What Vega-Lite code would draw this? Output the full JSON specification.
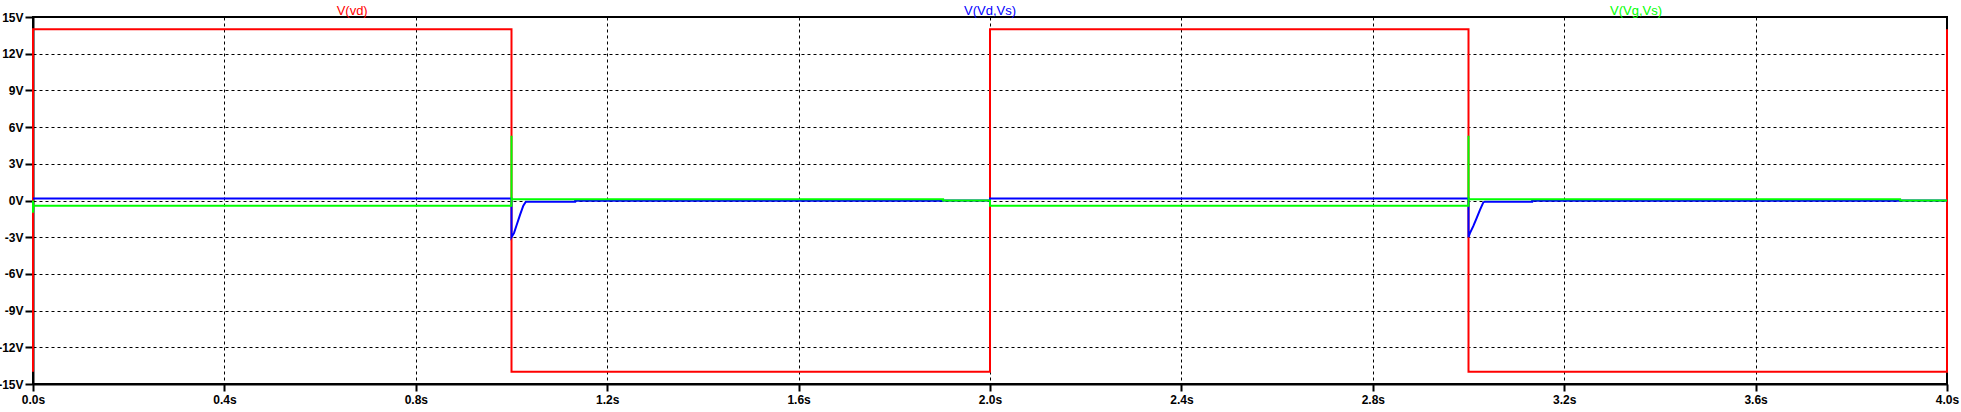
{
  "$schema": "https://vega.github.io/schema/vega-lite/v6.json",
  "width": 1914,
  "height": 367,
  "autosize": {"type": "none"},
  "padding": {"left": 33, "top": 17, "right": 14, "bottom": 28},
  "background": "white",
  "config": {
    "view": {"stroke": "black", "strokeWidth": 2},
    "axis": {
      "grid": true,
      "gridColor": "black",
      "gridDash": [3, 3],
      "gridWidth": 1,
      "gridOpacity": 1,
      "domainColor": "black",
      "domainWidth": 2,
      "tickColor": "black",
      "tickWidth": 2,
      "labelFont": "Liberation Sans",
      "labelFontSize": 12,
      "labelFontWeight": "bold",
      "labelColor": "black",
      "labelOverlap": false,
      "labelFlush": false,
      "title": null
    }
  },
  "datasets": {
    "traces": [
      {"s": "V(vd)", "i": 0, "t": 0, "v": -14},
      {"s": "V(vd)", "i": 1, "t": 0, "v": 14},
      {"s": "V(vd)", "i": 2, "t": 1, "v": 14},
      {"s": "V(vd)", "i": 3, "t": 1, "v": -14},
      {"s": "V(vd)", "i": 4, "t": 2, "v": -14},
      {"s": "V(vd)", "i": 5, "t": 2, "v": 14},
      {"s": "V(vd)", "i": 6, "t": 3, "v": 14},
      {"s": "V(vd)", "i": 7, "t": 3, "v": -14},
      {"s": "V(vd)", "i": 8, "t": 4, "v": -14},
      {"s": "V(vd)", "i": 9, "t": 4, "v": 14},

      {"s": "V(Vd,Vs)", "i": 0, "t": 0, "v": 0.16},
      {"s": "V(Vd,Vs)", "i": 1, "t": 1, "v": 0.16},
      {"s": "V(Vd,Vs)", "i": 2, "t": 1, "v": -3.0},
      {"s": "V(Vd,Vs)", "i": 3, "t": 1.0052, "v": -2.67},
      {"s": "V(Vd,Vs)", "i": 4, "t": 1.0108, "v": -2.0},
      {"s": "V(Vd,Vs)", "i": 5, "t": 1.0178, "v": -1.17},
      {"s": "V(Vd,Vs)", "i": 6, "t": 1.0247, "v": -0.43},
      {"s": "V(Vd,Vs)", "i": 7, "t": 1.030, "v": -0.1},
      {"s": "V(Vd,Vs)", "i": 8, "t": 1.133, "v": -0.1},
      {"s": "V(Vd,Vs)", "i": 9, "t": 1.133, "v": -0.03},
      {"s": "V(Vd,Vs)", "i": 10, "t": 1.902, "v": -0.03},
      {"s": "V(Vd,Vs)", "i": 11, "t": 1.902, "v": 0},
      {"s": "V(Vd,Vs)", "i": 12, "t": 2, "v": 0},
      {"s": "V(Vd,Vs)", "i": 13, "t": 2, "v": 0.16},
      {"s": "V(Vd,Vs)", "i": 14, "t": 3, "v": 0.16},
      {"s": "V(Vd,Vs)", "i": 15, "t": 3, "v": -3.0},
      {"s": "V(Vd,Vs)", "i": 16, "t": 3.003, "v": -2.67},
      {"s": "V(Vd,Vs)", "i": 17, "t": 3.010, "v": -2.1},
      {"s": "V(Vd,Vs)", "i": 18, "t": 3.017, "v": -1.44},
      {"s": "V(Vd,Vs)", "i": 19, "t": 3.024, "v": -0.76},
      {"s": "V(Vd,Vs)", "i": 20, "t": 3.031, "v": -0.16},
      {"s": "V(Vd,Vs)", "i": 21, "t": 3.034, "v": -0.1},
      {"s": "V(Vd,Vs)", "i": 22, "t": 3.133, "v": -0.1},
      {"s": "V(Vd,Vs)", "i": 23, "t": 3.133, "v": -0.03},
      {"s": "V(Vd,Vs)", "i": 24, "t": 3.902, "v": -0.03},
      {"s": "V(Vd,Vs)", "i": 25, "t": 3.902, "v": 0},
      {"s": "V(Vd,Vs)", "i": 26, "t": 4, "v": 0},

      {"s": "V(Vg,Vs)", "i": 0, "t": 0, "v": 0},
      {"s": "V(Vg,Vs)", "i": 1, "t": 0, "v": -1.0},
      {"s": "V(Vg,Vs)", "i": 2, "t": 0.001, "v": -0.43},
      {"s": "V(Vg,Vs)", "i": 3, "t": 1, "v": -0.43},
      {"s": "V(Vg,Vs)", "i": 4, "t": 1, "v": 5.3},
      {"s": "V(Vg,Vs)", "i": 5, "t": 1, "v": 0.11},
      {"s": "V(Vg,Vs)", "i": 6, "t": 1.902, "v": 0.11},
      {"s": "V(Vg,Vs)", "i": 7, "t": 1.902, "v": 0},
      {"s": "V(Vg,Vs)", "i": 8, "t": 2, "v": 0},
      {"s": "V(Vg,Vs)", "i": 9, "t": 2, "v": -0.43},
      {"s": "V(Vg,Vs)", "i": 10, "t": 3, "v": -0.43},
      {"s": "V(Vg,Vs)", "i": 11, "t": 3, "v": 5.3},
      {"s": "V(Vg,Vs)", "i": 12, "t": 3, "v": 0.11},
      {"s": "V(Vg,Vs)", "i": 13, "t": 3.902, "v": 0.11},
      {"s": "V(Vg,Vs)", "i": 14, "t": 3.902, "v": 0},
      {"s": "V(Vg,Vs)", "i": 15, "t": 4, "v": 0}
    ],
    "names": [
      {"s": "V(vd)", "t": 0.667, "v": 15.5},
      {"s": "V(Vd,Vs)", "t": 2.0, "v": 15.5},
      {"s": "V(Vg,Vs)", "t": 3.35, "v": 15.5}
    ]
  },
  "encoding": {
    "x": {
      "field": "t",
      "type": "quantitative",
      "scale": {"domain": [0, 4], "nice": false, "zero": false},
      "axis": {
        "values": [0, 0.4, 0.8, 1.2, 1.6, 2.0, 2.4, 2.8, 3.2, 3.6, 4.0],
        "labelExpr": "format(datum.value, '.1f') + 's'",
        "tickSize": 7,
        "labelPadding": 3
      }
    },
    "y": {
      "field": "v",
      "type": "quantitative",
      "scale": {"domain": [-15, 15], "nice": false, "zero": false},
      "axis": {
        "values": [-15, -12, -9, -6, -3, 0, 3, 6, 9, 12, 15],
        "labelExpr": "datum.value + 'V'",
        "tickSize": 8,
        "labelPadding": 2
      }
    },
    "color": {
      "field": "s",
      "type": "nominal",
      "scale": {"domain": ["V(vd)", "V(Vd,Vs)", "V(Vg,Vs)"], "range": ["#ff0000", "#0000ff", "#00ff00"]},
      "legend": null
    }
  },
  "layer": [
    {
      "data": {"name": "traces"},
      "transform": [{"filter": "datum.s === 'V(vd)'"}],
      "mark": {"type": "line", "strokeWidth": 2, "strokeJoin": "miter"},
      "encoding": {"order": {"field": "i", "type": "quantitative"}}
    },
    {
      "data": {"name": "traces"},
      "transform": [{"filter": "datum.s === 'V(Vd,Vs)'"}],
      "mark": {"type": "line", "strokeWidth": 2, "strokeJoin": "miter"},
      "encoding": {"order": {"field": "i", "type": "quantitative"}}
    },
    {
      "data": {"name": "traces"},
      "transform": [{"filter": "datum.s === 'V(Vg,Vs)'"}],
      "mark": {"type": "line", "strokeWidth": 2, "strokeJoin": "miter"},
      "encoding": {"order": {"field": "i", "type": "quantitative"}}
    },
    {
      "data": {"name": "names"},
      "mark": {"type": "text", "font": "Liberation Sans", "fontSize": 13, "baseline": "middle", "align": "center", "clip": false},
      "encoding": {"text": {"field": "s", "type": "nominal"}}
    }
  ]
}
